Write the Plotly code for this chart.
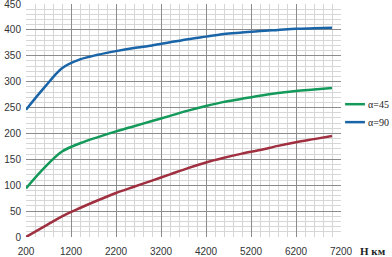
import plotly.graph_objects as go

h = [200, 600, 1000, 1400, 1800, 2200, 2600, 3000, 3400, 3800, 4200, 4600, 5000, 5400, 5800, 6200, 6600, 7000]
alpha90 = [246, 288, 326, 343, 352, 359, 365, 370, 376, 382, 387, 392, 395, 398, 400, 402, 403, 404]
alpha45 = [94, 133, 165, 181, 193, 204, 214, 224, 234, 244, 253, 261, 267, 273, 278, 282, 285, 288]
alpha0 = [0, 20, 40, 56, 71, 85, 97, 109, 121, 133, 144, 153, 161, 168, 176, 183, 189, 195]
legend_names = ["α=45", "α=90"]
x_ticks = [200, 1200, 2200, 3200, 4200, 5200, 6200, 7200]

c0, c45, c90 = "#a03040", "#13995a", "#1a64a8"

fig = go.Figure()
fig.add_trace(go.Scatter(x=h, y=alpha0, mode="lines", line=dict(color=c0, width=2.5, shape="spline", smoothing=0.9), showlegend=False))
fig.add_trace(go.Scatter(x=h, y=alpha45, mode="lines", name=legend_names[0], line=dict(color=c45, width=2.5, shape="spline", smoothing=0.9), showlegend=False))
fig.add_trace(go.Scatter(x=h, y=alpha90, mode="lines", name=legend_names[1], line=dict(color=c90, width=2.5, shape="spline", smoothing=0.9), showlegend=False))

fig.update_layout(
    width=392, height=257,
    margin=dict(l=26, r=51, t=4, b=20, autoexpand=False),
    paper_bgcolor="white", plot_bgcolor="white",
    font=dict(family="Liberation Sans, Arial", size=10, color="#333"),
    showlegend=False,
    xaxis=dict(range=[200, 7200], tickvals=x_ticks, showgrid=True, gridcolor="#8c8c8c", gridwidth=1,
               minor=dict(dtick=200, tick0=200, showgrid=True, gridcolor="#d6d6d6", gridwidth=1),
               zeroline=False, showline=False, ticks="", automargin=False, ticklabeloverflow="allow",
               ticklabelstandoff=7),
    yaxis=dict(range=[0, 450], dtick=50, showgrid=True, gridcolor="#8c8c8c", gridwidth=1,
               minor=dict(dtick=10, showgrid=True, gridcolor="#d6d6d6", gridwidth=1),
               zeroline=False, showline=False, ticks="", automargin=False, ticklabeloverflow="allow",
               ticklabelstandoff=4),
)

# legend drawn next to the plot area
leg_y = [0.57, 0.493]
for name, col, ly in zip(legend_names, [c45, c90], leg_y):
    fig.add_shape(type="line", xref="paper", yref="paper", x0=1.013, x1=1.076, y0=ly, y1=ly,
                  line=dict(color=col, width=2.5))
    fig.add_annotation(x=1.08, y=ly, xref="paper", yref="paper", text=name, showarrow=False,
                       xanchor="left", yanchor="middle",
                       font=dict(family="Liberation Serif, Times New Roman", size=10, color="#222"))

fig.add_annotation(x=1.0, y=0, xref="paper", yref="paper", xshift=17, yshift=-14,
                   text="<b>Н км</b>", showarrow=False, xanchor="left", yanchor="middle",
                   font=dict(family="Liberation Serif, Times New Roman", size=11, color="#222"))
fig.write_html("out.html", config={"displayModeBar": False},
               post_script="document.body.style.margin='0';document.body.style.overflow='hidden';")
